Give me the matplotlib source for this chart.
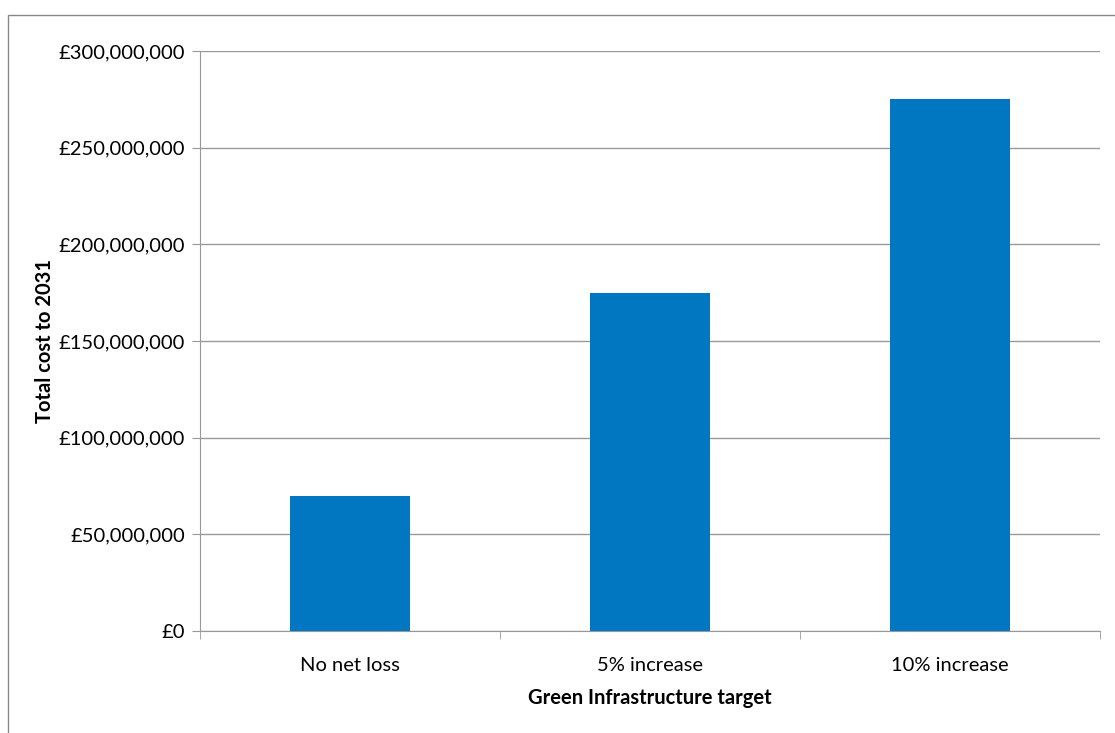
import matplotlib.pyplot as plt
from matplotlib.ticker import FuncFormatter, FixedLocator
from matplotlib.patches import Rectangle

categories = ['No net loss', '5% increase', '10% increase']
total_cost = [70000000, 175000000, 275000000]

plt.rcParams['font.family'] = ['Lato', 'DejaVu Sans']

fig = plt.figure(figsize=(11.15, 7.33), dpi=100)
ax = fig.add_axes([200 / 1115, 1 - 631 / 733, 900 / 1115, 580 / 733])

x = list(range(len(categories)))
ax.bar(x, total_cost, width=0.4, color='#0077C0', zorder=3)

ax.set_xlim(-0.5, len(categories) - 0.5)
ax.set_ylim(0, 300000000)
ax.set_yticks(range(0, 300000001, 50000000))
ax.yaxis.set_major_formatter(FuncFormatter(lambda v, p: f'£{int(v):,}'))

ax.set_xticks(x)
ax.set_xticklabels(categories)
ax.xaxis.set_minor_locator(FixedLocator([-0.5, 0.5, 1.5, 2.5]))
ax.tick_params(axis='x', which='major', length=0, pad=19, labelsize=14.5)
ax.tick_params(axis='x', which='minor', length=6, color='#999999', direction='out')
ax.tick_params(axis='y', length=6, color='#999999', labelsize=14.5, pad=5)

ax.grid(axis='y', color='#999999', linewidth=1, zorder=0)
for side in ['top', 'right']:
    ax.spines[side].set_visible(False)
for side in ['left', 'bottom']:
    ax.spines[side].set_color('#999999')

ax.set_xlabel('Green Infrastructure target', fontweight='bold', fontsize=14.5, va='center')
ax.xaxis.set_label_coords(0.5, (631 - 698) / 580)
ax.set_ylabel('Total cost to 2031', fontweight='bold', fontsize=14.5, va='center')
ax.yaxis.set_label_coords((45 - 200) / 900, 0.5)

fig.patches.append(Rectangle((8 / 1115, -0.1), 1.2, 1 - 15 / 733 + 0.1,
                             transform=fig.transFigure, fill=False,
                             edgecolor='#888888', linewidth=1))

fig.savefig('out.png', dpi=100)
